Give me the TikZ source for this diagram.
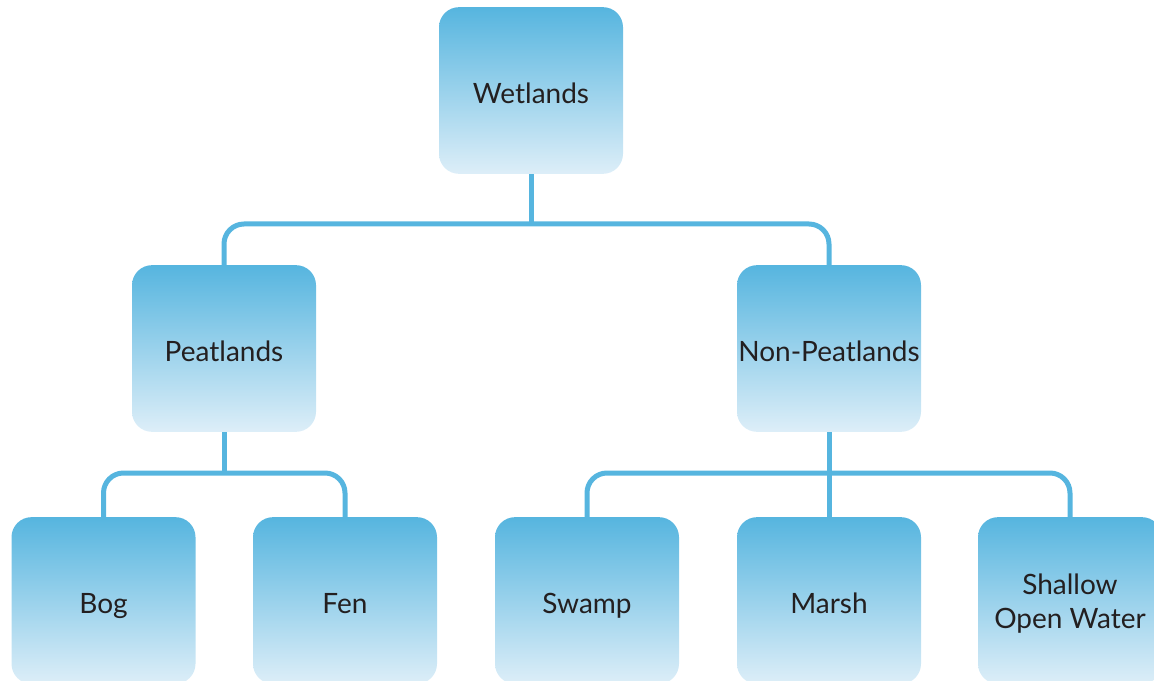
\documentclass[tikz,border=0pt]{standalone}
\usepackage{fontspec}
\setmainfont{Lato}
\definecolor{wetblue}{RGB}{86,181,223}
\definecolor{wetpale}{RGB}{221,238,248}
\definecolor{inkgray}{RGB}{35,31,32}
\tikzset{
  wbox/.style={rounded corners=15pt, minimum width=138pt, minimum height=125pt,
    inner sep=0pt, top color=wetblue, bottom color=wetpale, text=inkgray,
    align=center, font=\fontsize{21}{25}\selectfont,
    text height=19.5pt, text depth=0pt},
  link/.style={draw=wetblue, line width=3.75pt, rounded corners=15pt}
}
\begin{document}
\begin{tikzpicture}[x=0.75pt,y=0.75pt,yscale=-1,xscale=1]
\clip (0,0) rectangle (1154,681);

% Boxes
\node[wbox] (wet) at (531,90.5) {Wetlands};
\node[wbox] (peat) at (224,348.5) {Peatlands};
\node[wbox] (nonpeat) at (829,348.5) {Non-Peatlands};
\node[wbox] (bog) at (103.5,600.5) {Bog};
\node[wbox] (fen) at (345,600.5) {Fen};
\node[wbox] (swamp) at (587,600.5) {Swamp};
\node[wbox] (marsh) at (829,600.5) {Marsh};
\node[wbox, text height=41.25pt] (shallow) at (1070,600.5) {Shallow\\Open Water};

% Junctions
\coordinate (wetj) at (531,224);
\coordinate (peatj) at (224,473);
\coordinate (nonpeatj) at (829,473);

% Connectors
\draw[link] (wet) -- (wetj);
\draw[link] (peat.north) |- (wetj) -| (nonpeat.north);
\draw[link] (peat) -- (peatj);
\draw[link] (bog.north) |- (peatj) -| (fen.north);
\draw[link] (nonpeat) -- (marsh);
\draw[link] (swamp.north) |- (nonpeatj) -| (shallow.north);

\end{tikzpicture}
\end{document}
